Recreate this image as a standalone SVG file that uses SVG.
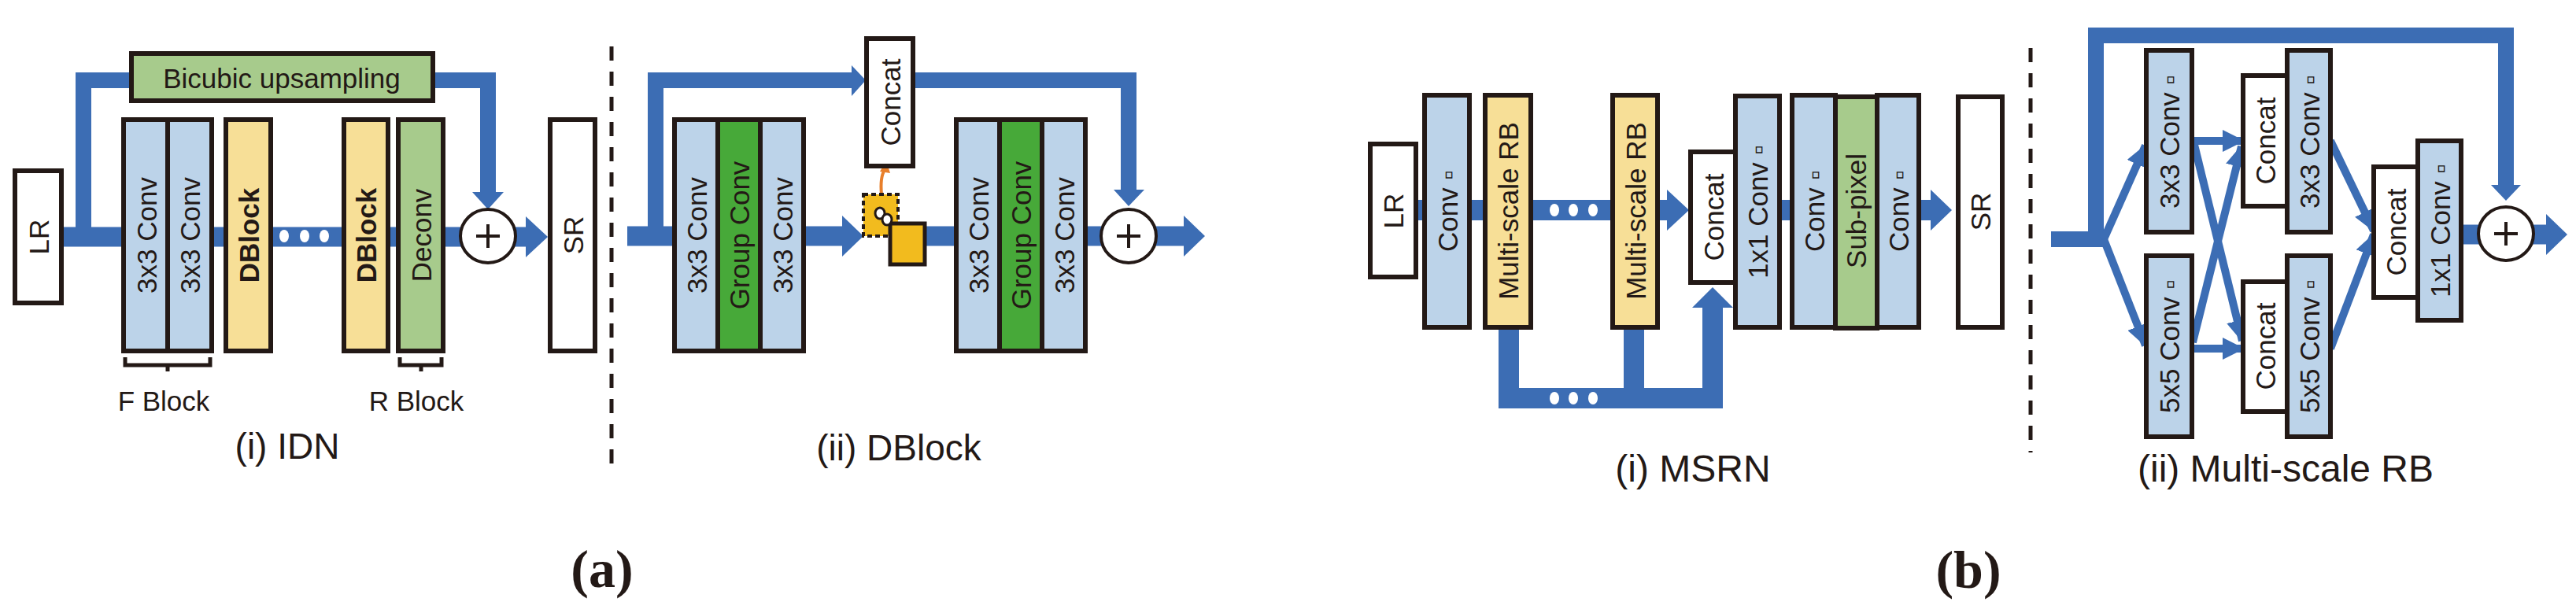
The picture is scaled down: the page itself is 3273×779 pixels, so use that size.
<svg xmlns="http://www.w3.org/2000/svg" width="3273" height="779" viewBox="0 0 3273 779">
<defs>
<style>
.b{stroke:#231916;stroke-width:6}
.w{fill:#fff}.lb{fill:#BCD3E9}.yl{fill:#F7DF97}.lg{fill:#A7CB8C}.dg{fill:#47A939}
.t{font-family:"Liberation Sans",Arial,sans-serif;font-size:35px;fill:#231916;text-anchor:middle;dominant-baseline:central}
.bd{font-weight:bold}
.cap{font-family:"Liberation Sans",Arial,sans-serif;fill:#231916;text-anchor:middle}
.lbl{font-family:"Liberation Serif","Times New Roman",serif;font-weight:bold;font-size:68px;fill:#231916;text-anchor:middle}
.c{fill:none;stroke:#3C6DB4}
.h{fill:#3C6DB4}
.d{stroke:#231916;stroke-width:5;stroke-dasharray:18 14}
.dot{fill:#fff}
.pl{fill:#fff;stroke:#231916;stroke-width:4}
</style>
<marker id="ah" markerUnits="userSpaceOnUse" markerWidth="30" markerHeight="28" refX="26" refY="14" orient="auto"><path d="M0,0 L28,14 L0,28 z" fill="#3C6DB4"/></marker>
</defs>
<rect width="3273" height="779" fill="#fff"/>

<g id="connectors">
<!-- a(i) -->
<path class="c" stroke-width="25" d="M78 301 H668"/>
<polygon class="h" points="668,275 696,301 668,327"/>
<path class="c" stroke-width="20" d="M106 301 V102 H620 V246"/>
<polygon class="h" points="600,244 640,244 620,266"/>
<!-- a(ii) -->
<path class="c" stroke-width="25" d="M797 300 H1072"/>
<polygon class="h" points="1070,274 1097,300 1070,326"/>
<path class="c" stroke-width="25" d="M1170 300 H1506"/>
<polygon class="h" points="1504,274 1531,300 1504,326"/>
<path class="c" stroke-width="20" d="M833 310 V102 H1084"/>
<polygon class="h" points="1082,83 1100,102 1082,122"/>
<path class="c" stroke-width="20" d="M1160 102 H1434 V243"/>
<polygon class="h" points="1415,241 1454,241 1434,262"/>
<path d="M1120 247 Q1118 225 1124 216" fill="none" stroke="#E87F2B" stroke-width="4"/>
<polygon points="1118,218 1126,204 1131,220" fill="#E87F2B"/>
<!-- b(i) -->
<path class="c" stroke-width="26" d="M1799 267 H2120"/>
<polygon class="h" points="2118,241 2146,267 2118,293"/>
<path class="c" stroke-width="26" d="M2258 267 H2280"/>
<path class="c" stroke-width="26" d="M2436 267 H2455"/>
<polygon class="h" points="2453,241 2480,267 2453,293"/>
<path class="c" stroke-width="26" d="M1917 410 V506 H2176 V389"/>
<path class="c" stroke-width="26" d="M2076 410 V506"/>
<polygon class="h" points="2150,391 2202,391 2176,365"/>
<!-- b(ii) -->
<path class="c" stroke-width="20" d="M2606 304 H2673"/>
<path class="c" stroke-width="20" d="M2663 304 V45 H3184 V237"/>
<polygon class="h" points="3165,235 3203,235 3184,255"/>
<g class="c" stroke-width="10" marker-end="url(#ah)">
<path d="M2673 304 L2726 185"/>
<path d="M2673 304 L2726 439"/>
<path d="M2786 179 L2850 179"/>
<path d="M2788 184 L2849 433"/>
<path d="M2786 435 L2848 186"/>
<path d="M2786 443 L2850 443"/>
<path d="M2961 179 L3016 293"/>
<path d="M2961 443 L3016 298"/>
</g>
<path class="c" stroke-width="25" d="M3125 298 H3152"/>
<path class="c" stroke-width="25" d="M3216 298 H3237"/>
<polygon class="h" points="3235,272 3262,298 3235,324"/>
</g>

<g id="dots">
<ellipse class="dot" cx="361" cy="300" rx="6" ry="8"/><ellipse class="dot" cx="387" cy="300" rx="6" ry="8"/><ellipse class="dot" cx="412" cy="300" rx="6" ry="8"/>
<ellipse class="dot" cx="1975" cy="267" rx="6" ry="8"/><ellipse class="dot" cx="1999" cy="267" rx="6" ry="8"/><ellipse class="dot" cx="2024" cy="267" rx="6" ry="8"/>
<ellipse class="dot" cx="1975" cy="506" rx="6" ry="8"/><ellipse class="dot" cx="1999" cy="506" rx="6" ry="8"/><ellipse class="dot" cx="2024" cy="506" rx="6" ry="8"/>
</g>

<!-- a(i) nodes -->
<g id="a-lr"><rect class="b w" x="19" y="217" width="59" height="168"/><text class="t" transform="translate(49,301) rotate(-90)">LR</text></g>
<g id="a-bicubic"><rect class="b lg" x="167" y="68" width="383" height="60"/><text class="t" x="358" y="99">Bicubic upsampling</text></g>
<g id="a-fblock"><rect class="b lb" x="157" y="152" width="56" height="294"/><rect class="b lb" x="213" y="152" width="56" height="294"/>
<text class="t" transform="translate(186,299) rotate(-90)">3x3 Conv</text><text class="t" transform="translate(241,299) rotate(-90)">3x3 Conv</text></g>
<g id="a-dblock1"><rect class="b yl" x="287" y="152" width="57" height="294"/><text class="t bd" font-size="33" transform="translate(316,299) rotate(-90)">DBlock</text></g>
<g id="a-dblock2"><rect class="b yl" x="437" y="152" width="56" height="294"/><text class="t bd" font-size="33" transform="translate(465,299) rotate(-90)">DBlock</text></g>
<g id="a-deconv"><rect class="b lg" x="506" y="152" width="57" height="294"/><text class="t" transform="translate(535,299) rotate(-90)">Deconv</text></g>
<g id="a-plus"><ellipse class="pl" cx="620" cy="300" rx="35" ry="34"/><path d="M605 300 H635 M620 285 V315" stroke="#231916" stroke-width="4"/></g>
<g id="a-sr"><rect class="b w" x="699" y="152" width="57" height="294"/><text class="t" transform="translate(728,299) rotate(-90)">SR</text></g>
<g id="a-brackets" fill="none" stroke="#231916" stroke-width="5">
<path d="M159 454 V464 H267 V454 M213 464 V472"/><path d="M508 454 V464 H561 V454 M535 464 V472"/></g>
<text class="cap" x="208" y="522" font-size="35">F Block</text>
<text class="cap" x="529" y="522" font-size="35">R Block</text>
<text class="cap" x="365" y="583" font-size="46">(i) IDN</text>

<line class="d" x1="777" y1="59" x2="777" y2="603"/>

<!-- a(ii) -->
<g id="a-block1"><rect class="b lb" x="857" y="152" width="55" height="294"/><rect class="b dg" x="912" y="152" width="54" height="294"/><rect class="b lb" x="966" y="152" width="55" height="294"/>
<text class="t" transform="translate(885,299) rotate(-90)">3x3 Conv</text><text class="t" transform="translate(939,299) rotate(-90)">Group Conv</text><text class="t" transform="translate(994,299) rotate(-90)">3x3 Conv</text></g>
<g id="a-concat"><rect class="b w" x="1101" y="49" width="59" height="162"/><text class="t" transform="translate(1131,130) rotate(-90)">Concat</text></g>
<g id="a-chan">
<rect x="1097" y="247" width="44" height="53" fill="#F2BB1E" stroke="#231916" stroke-width="4" stroke-dasharray="6 4"/>
<rect x="1131" y="284" width="44" height="52" fill="#F2BB1E" stroke="#231916" stroke-width="5"/>
<ellipse cx="1118" cy="271" rx="6" ry="7" fill="#fff" stroke="#231916" stroke-width="3"/>
<ellipse cx="1127" cy="279" rx="6" ry="7" fill="#fff" stroke="#231916" stroke-width="3"/>
</g>
<g id="a-block2"><rect class="b lb" x="1215" y="152" width="55" height="294"/><rect class="b dg" x="1270" y="152" width="54" height="294"/><rect class="b lb" x="1324" y="152" width="55" height="294"/>
<text class="t" transform="translate(1243,299) rotate(-90)">3x3 Conv</text><text class="t" transform="translate(1297,299) rotate(-90)">Group Conv</text><text class="t" transform="translate(1352,299) rotate(-90)">3x3 Conv</text></g>
<g id="a-plus2"><ellipse class="pl" cx="1434" cy="300" rx="35" ry="34"/><path d="M1419 300 H1449 M1434 285 V315" stroke="#231916" stroke-width="4"/></g>
<text class="cap" x="1142" y="585" font-size="46">(ii) DBlock</text>
<text class="lbl" x="765" y="746">(a)</text>

<!-- b(i) -->
<g id="b-lr"><rect class="b w" x="1741" y="183" width="58" height="169"/><text class="t" transform="translate(1770,268) rotate(-90)">LR</text></g>
<g id="b-conv1"><rect class="b lb" x="1810" y="121" width="57" height="295"/><text class="t" transform="translate(1839,268) rotate(-90)">Conv ▫</text></g>
<g id="b-msrb1"><rect class="b yl" x="1887" y="121" width="58" height="295"/><text class="t" transform="translate(1916,268) rotate(-90)">Multi-scale RB</text></g>
<g id="b-msrb2"><rect class="b yl" x="2049" y="121" width="57" height="295"/><text class="t" transform="translate(2078,268) rotate(-90)">Multi-scale RB</text></g>
<g id="b-concat"><rect class="b w" x="2148" y="193" width="57" height="166"/><text class="t" transform="translate(2177,276) rotate(-90)">Concat</text></g>
<g id="b-1x1"><rect class="b lb" x="2205" y="122" width="56" height="294"/><text class="t" transform="translate(2233,269) rotate(-90)">1x1 Conv ▫</text></g>
<g id="b-up"><rect class="b lb" x="2277" y="121" width="55" height="295"/><rect class="b lg" x="2332" y="123" width="53" height="294"/><rect class="b lb" x="2385" y="121" width="53" height="295"/>
<text class="t" transform="translate(2305,268) rotate(-90)">Conv ▫</text><text class="t" transform="translate(2358,268) rotate(-90)">Sub-pixel</text><text class="t" transform="translate(2412,268) rotate(-90)">Conv ▫</text></g>
<g id="b-sr"><rect class="b w" x="2488" y="123" width="56" height="293"/><text class="t" transform="translate(2516,269) rotate(-90)">SR</text></g>
<text class="cap" x="2151" y="612" font-size="48">(i) MSRN</text>

<line class="d" x1="2580" y1="61" x2="2580" y2="575"/>

<!-- b(ii) -->
<g id="b-3x3a"><rect class="b lb" x="2727" y="64" width="58" height="231"/><text class="t" font-size="34" transform="translate(2756,180) rotate(-90)">3x3 Conv ▫</text></g>
<g id="b-5x5a"><rect class="b lb" x="2727" y="325" width="58" height="230"/><text class="t" font-size="34" transform="translate(2756,440) rotate(-90)">5x5 Conv ▫</text></g>
<g id="b-concat1"><rect class="b w" x="2850" y="96" width="56" height="166"/><text class="t" transform="translate(2878,179) rotate(-90)">Concat</text></g>
<g id="b-3x3b"><rect class="b lb" x="2906" y="64" width="55" height="231"/><text class="t" font-size="34" transform="translate(2934,180) rotate(-90)">3x3 Conv ▫</text></g>
<g id="b-concat2"><rect class="b w" x="2850" y="358" width="56" height="165"/><text class="t" transform="translate(2878,440) rotate(-90)">Concat</text></g>
<g id="b-5x5b"><rect class="b lb" x="2906" y="325" width="55" height="230"/><text class="t" font-size="34" transform="translate(2934,440) rotate(-90)">5x5 Conv ▫</text></g>
<g id="b-concat3"><rect class="b w" x="3016" y="212" width="56" height="166"/><text class="t" transform="translate(3044,295) rotate(-90)">Concat</text></g>
<g id="b-1x1b"><rect class="b lb" x="3072" y="179" width="55" height="228"/><text class="t" font-size="34" transform="translate(3100,293) rotate(-90)">1x1 Conv ▫</text></g>
<g id="b-plus"><ellipse class="pl" cx="3184" cy="297" rx="35" ry="34"/><path d="M3169 297 H3199 M3184 282 V312" stroke="#231916" stroke-width="4"/></g>
<text class="cap" x="2904" y="612" font-size="48">(ii) Multi-scale RB</text>
<text class="lbl" x="2501" y="747">(b)</text>
</svg>
